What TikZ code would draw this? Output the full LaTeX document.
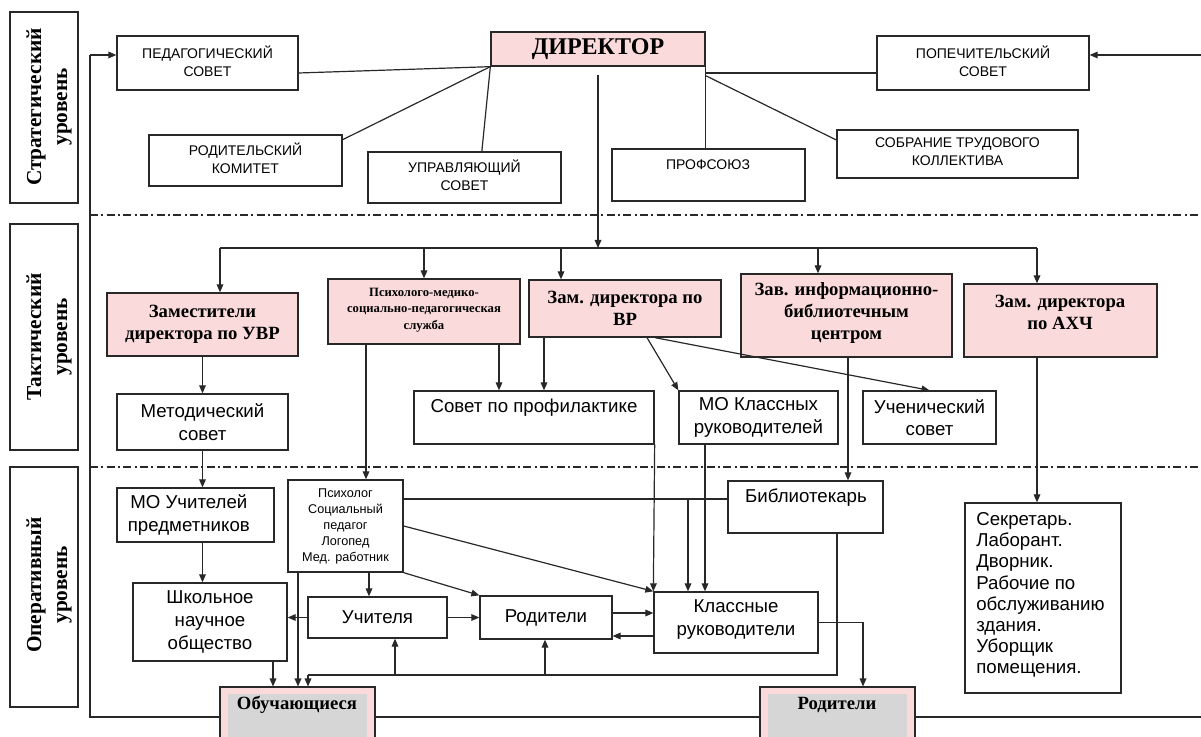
\documentclass[tikz,border=0pt]{standalone}
\usepackage{fontspec}
\setmainfont{Liberation Sans}
\newfontfamily\serifb{Liberation Serif}
\usetikzlibrary{arrows.meta,fit}
\definecolor{pinkc}{RGB}{250,218,218}
\definecolor{greyc}{RGB}{214,214,214}
\definecolor{linec}{RGB}{40,40,40}
\begin{document}
\begin{tikzpicture}[x=0.75pt,y=-0.75pt,
 every node/.style={inner sep=0pt},
 box/.style={draw=linec, line width=1pt, inner sep=0pt},
 pbox/.style={box, fill=pinkc},
 captxt/.style={align=center, font=\fontsize{10.5}{13.5}\selectfont},
 txt/.style={align=center, font=\fontsize{14}{17}\selectfont},
 btxt/.style={align=center, font=\serifb\bfseries\fontsize{14}{16.5}\selectfont},
 smalltxt/.style={align=center, font=\fontsize{9.5}{12}\selectfont},
 lvl/.style={draw=linec, line width=1pt},
 lvltext/.style={rotate=90, align=center, font=\serifb\bfseries\fontsize{16}{19.5}\selectfont},
 bottombox/.style={draw=linec, line width=0.8pt, fill=pinkc},
 ln/.style={draw=linec, line width=0.9pt},
 arr/.style={ln, -{Triangle[length=6pt,width=5pt]}},
 sepline/.style={draw=linec, line width=0.8pt, dash pattern=on 6pt off 2.5pt on 1.5pt off 2.5pt},
]
\useasboundingbox (0,0) rectangle (1201,737);

% ---------- level labels
\node[lvl, fit={(10,12) (78,203)}] (L1) {};
\node[lvltext] (L1t) at (49,107) {Стратегический\\уровень};
\node[lvl, fit={(10,224) (78,450)}] (L2) {};
\node[lvltext] (L2t) at (49,337) {Тактический\\уровень};
\node[lvl, fit={(10,467) (78,707)}] (L3) {};
\node[lvltext] (L3t) at (49,585) {Оперативный\\уровень};

% ---------- separators
\coordinate (s1a) at (90,215); \coordinate (s1b) at (1201,215);
\coordinate (s2a) at (90,467); \coordinate (s2b) at (1201,467);
\draw[sepline] (s1a) -- (s1b);
\draw[sepline] (s2a) -- (s2b);

% ---------- strategic level
\node[box, fit={(117,36) (298,90)}] (ped) {};
\node[captxt] (pedt) at ([yshift=1.5pt]ped.center) {ПЕДАГОГИЧЕСКИЙ\\СОВЕТ};
\node[box, fit={(149,135) (342,186)}] (rodk) {};
\node[captxt] (rodkt) at ([yshift=1.5pt]rodk.center) {РОДИТЕЛЬСКИЙ\\КОМИТЕТ};
\node[pbox, fit={(491,32) (705,66)}] (dir) {};
\node[font=\serifb\bfseries\fontsize{18}{20}\selectfont] (dirt) at (dir.center) {ДИРЕКТОР};
\node[box, fit={(368,152) (561,203)}] (upr) {};
\node[captxt] (uprt) at ([yshift=1.5pt]upr.center) {УПРАВЛЯЮЩИЙ\\СОВЕТ};
\node[box, fit={(612,149) (805,201)}] (prof) {};
\node[captxt] (proft) at (708,165) {ПРОФСОЮЗ};
\node[box, fit={(837,130) (1078,178)}] (sob) {};
\node[captxt] (sobt) at ([yshift=1.5pt]sob.center) {СОБРАНИЕ ТРУДОВОГО\\КОЛЛЕКТИВА};
\node[box, fit={(877,36) (1089,90)}] (pop) {};
\node[captxt] (popt) at ([yshift=1.5pt]pop.center) {ПОПЕЧИТЕЛЬСКИЙ\\СОВЕТ};

\draw[ln] ([yshift=-7.5pt]ped.east) -- (dir.south west);
\draw[ln] ([yshift=-4pt]rodk.north east) -- (dir.south west);
\draw[ln] ([xshift=13pt]upr.north) -- (dir.south west);
\draw[ln] (dir.south east) -- (dir.south east |- prof.north);
\coordinate (pw) at ([yshift=-7.5pt]pop.west);
\draw[ln] (pw) -- (pw -| dir.east);
\draw[ln] ([yshift=-6.75pt]dir.south east) -- ([yshift=10.5pt]sob.west);

% ---------- outer frame points
\coordinate (f1) at (90,55);
\coordinate (f2) at (1201,55);
\coordinate (fbl) at (90,717);
\coordinate (fbr) at (1201,717);

% ---------- bus from director
\coordinate (busL) at (220,248);
\coordinate (busR) at (1037,248);
\coordinate (b3) at (561,248);
\coordinate (b4) at (818,248);
\draw[arr] ([yshift=-6pt]dir.south) -- (dir.south |- busL);
\draw[ln] (busL) -- (busR);

% ---------- tactical level
\node[pbox, fit={(107,293) (298,356)}] (uvr) {};
\node[btxt] (uvrt) at (uvr.center) {Заместители\\директора по УВР};
\node[pbox, fit={(328,279) (520,344)}] (pms) {};
\node[align=center, font=\serifb\bfseries\fontsize{9.5}{12.4}\selectfont] (pmst) at ([yshift=1pt]pms.center) {Психолого-медико-\\социально-педагогическая\\служба};
\node[pbox, fit={(529,280) (721,337)}] (vr) {};
\node[btxt] (vrt) at (vr.center) {Зам. директора по\\ВР};
\node[pbox, fit={(741,274) (952,357)}] (zav) {};
\node[btxt] (zavt) at ([yshift=1.5pt]zav.center) {Зав. информационно-\\библиотечным\\центром};
\node[pbox, fit={(964,284) (1157,357)}] (axch) {};
\node[btxt] (axcht) at (1060,312) {Зам. директора\\по АХЧ};

\node[box, fit={(117,394) (288,450)}] (met) {};
\node[txt] (mett) at (met.center) {Методический\\совет};
\node[box, fit={(414,391) (654,444)}] (sov) {};
\node[txt] (sovt) at (534,408) {Совет по профилактике};
\node[box, fit={(679,391) (838,444)}] (mok) {};
\node[txt] (mokt) at (mok.center) {МО Классных\\руководителей};
\node[box, fit={(863,391) (996,444)}] (uch) {};
\node[txt] (ucht) at (uch.center) {Ученический\\совет};

\draw[arr] (busL) -- (busL |- uvr.north);
\draw[arr] (pms.north |- busL) -- (pms.north);
\draw[arr] (b3) -- (b3 |- vr.north);
\draw[arr] (b4) -- (b4 |- zav.north);
\draw[arr] (busR) -- (busR |- axch.north);

\coordinate (x499) at (499,0);
\coordinate (x544) at (544,0);
\coordinate (x647) at (647,0);
\coordinate (x655) at (655,0);
\coordinate (x366) at (366,0);
\coordinate (x848) at (848,0);
\coordinate (x705) at (705,0);

\draw[arr] (uvr.south) -- (uvr.south |- met.north);
\draw[arr] (pms.south -| x499) -- (sov.north -| x499);
\draw[arr] (vr.south -| x544) -- (sov.north -| x544);
\draw[arr] (vr.south -| x647) -- (mok.north west);
\draw[arr] (vr.south -| x655) -- (uch.north);

% ---------- operative level
\node[box, fit={(117,488) (274,542)}] (mou) {};
\node[txt] (mout) at ([xshift=-5pt]mou.center) {МО Учителей\\предметников};
\node[box, fit={(288,480) (403,572)}] (psy) {};
\node[smalltxt] (psyt) at (psy.center) {Психолог\\Социальный\\педагог\\Логопед\\Мед. работник};
\node[box, fit={(728,481) (883,533)}] (bib) {};
\node[txt] (bibt) at (806,498) {Библиотекарь};
\node[box, fit={(965,503) (1121,693)}] (sek) {};
\node[anchor=west, align=left, font=\fontsize{14}{15.9}\selectfont] (sekt) at (976,595)
  {Секретарь.\\Лаборант.\\Дворник.\\Рабочие по\\обслуживанию\\здания.\\Уборщик\\помещения.};
\node[box, fit={(133,583) (287,661)}] (shk) {};
\node[txt] (shkt) at (shk.center) {Школьное\\научное\\общество};
\node[box, fit={(308,597) (447,638)}] (uchit) {};
\node[txt] (uchitt) at (uchit.center) {Учителя};
\node[box, fit={(480,596) (612,639)}] (rodm) {};
\node[txt] (rodmt) at (rodm.center) {Родители};
\node[box, fit={(654,592) (818,653)}] (kl) {};
\node[txt] (klt) at ([yshift=2pt]kl.center) {Классные\\руководители};

\node[bottombox, fit={(220,687) (375,747)}] (obuch) {};
\fill[greyc] (228,694) rectangle (367,747);
\node[btxt] (obucht) at (297,705) {Обучающиеся};
\node[bottombox, fit={(760,687) (915,747)}] (rodb) {};
\fill[greyc] (768,694) rectangle (907,747);
\node[btxt] (rodbt) at (837,705) {Родители};

% frame
\draw[ln] (obuch.west) -- (fbl) -- (f1);
\draw[arr] (f1) -- (f1 -| ped.west);
\draw[ln] (obuch.east) -- (rodb.west);
\draw[ln] (rodb.east) -- (fbr);
\draw[arr] (f2) -- (f2 -| pop.east);

% tactical -> operative
\draw[arr] (pms.south -| x366) -- (psy.north -| x366);
\draw[arr] (zav.south -| x848) -- (bib.north -| x848);
\draw[arr] (axch.south -| busR) -- (sek.north -| busR);
\draw[arr] (met.south) -- (met.south |- mou.north);
\draw[arr] (sov.south east) -- (kl.north west);
\draw[arr] (mok.south -| x705) -- (kl.north -| x705);

% operative connectors
\coordinate (x369) at (369,0);
\coordinate (x688) at (688,0);
\coordinate (x273) at (273,0);
\coordinate (x298) at (298,0);
\coordinate (x308) at (308,0);
\coordinate (x395) at (395,0);
\coordinate (x545) at (545,0);
\coordinate (x837) at (837,0);
\coordinate (x863) at (863,0);
\coordinate (y499) at (0,499);
\coordinate (y613) at (0,613);
\coordinate (y636) at (0,636);
\coordinate (y675) at (0,675);

\draw[arr] (met.south |- mou.south) -- (met.south |- shk.north);
\draw[arr] (psy.south -| x369) -- (uchit.north -| x369);
\draw[arr] (psy.south east) -- (rodm.north west);
\draw[arr] (psy.east) -- (kl.north west);
\draw[ln] (psy.east |- y499) -- (bib.west |- y499);
\draw[arr] (x688 |- y499) -- (kl.north -| x688);
\draw[arr] (uchit.west) -- (shk.east |- uchit.west);
\draw[arr] (uchit.east) -- (rodm.west |- uchit.east);
\draw[arr] (rodm.east |- y613) -- (kl.west |- y613);
\draw[arr] (kl.west |- y636) -- (rodm.east |- y636);
\draw[arr] (shk.south -| x273) -- (obuch.north -| x273);
\draw[arr] (psy.south -| x298) -- (obuch.north -| x298);
\draw[ln] (bib.south -| x837) -- (x837 |- y675) -- (x308 |- y675);
\draw[arr] (x308 |- y675) -- (obuch.north -| x308);
\draw[arr] (x395 |- y675) -- (uchit.south -| x395);
\draw[arr] (x545 |- y675) -- (rodm.south -| x545);
\draw[arr] (kl.east) -| (rodb.north -| x863);
\end{tikzpicture}
\end{document}
